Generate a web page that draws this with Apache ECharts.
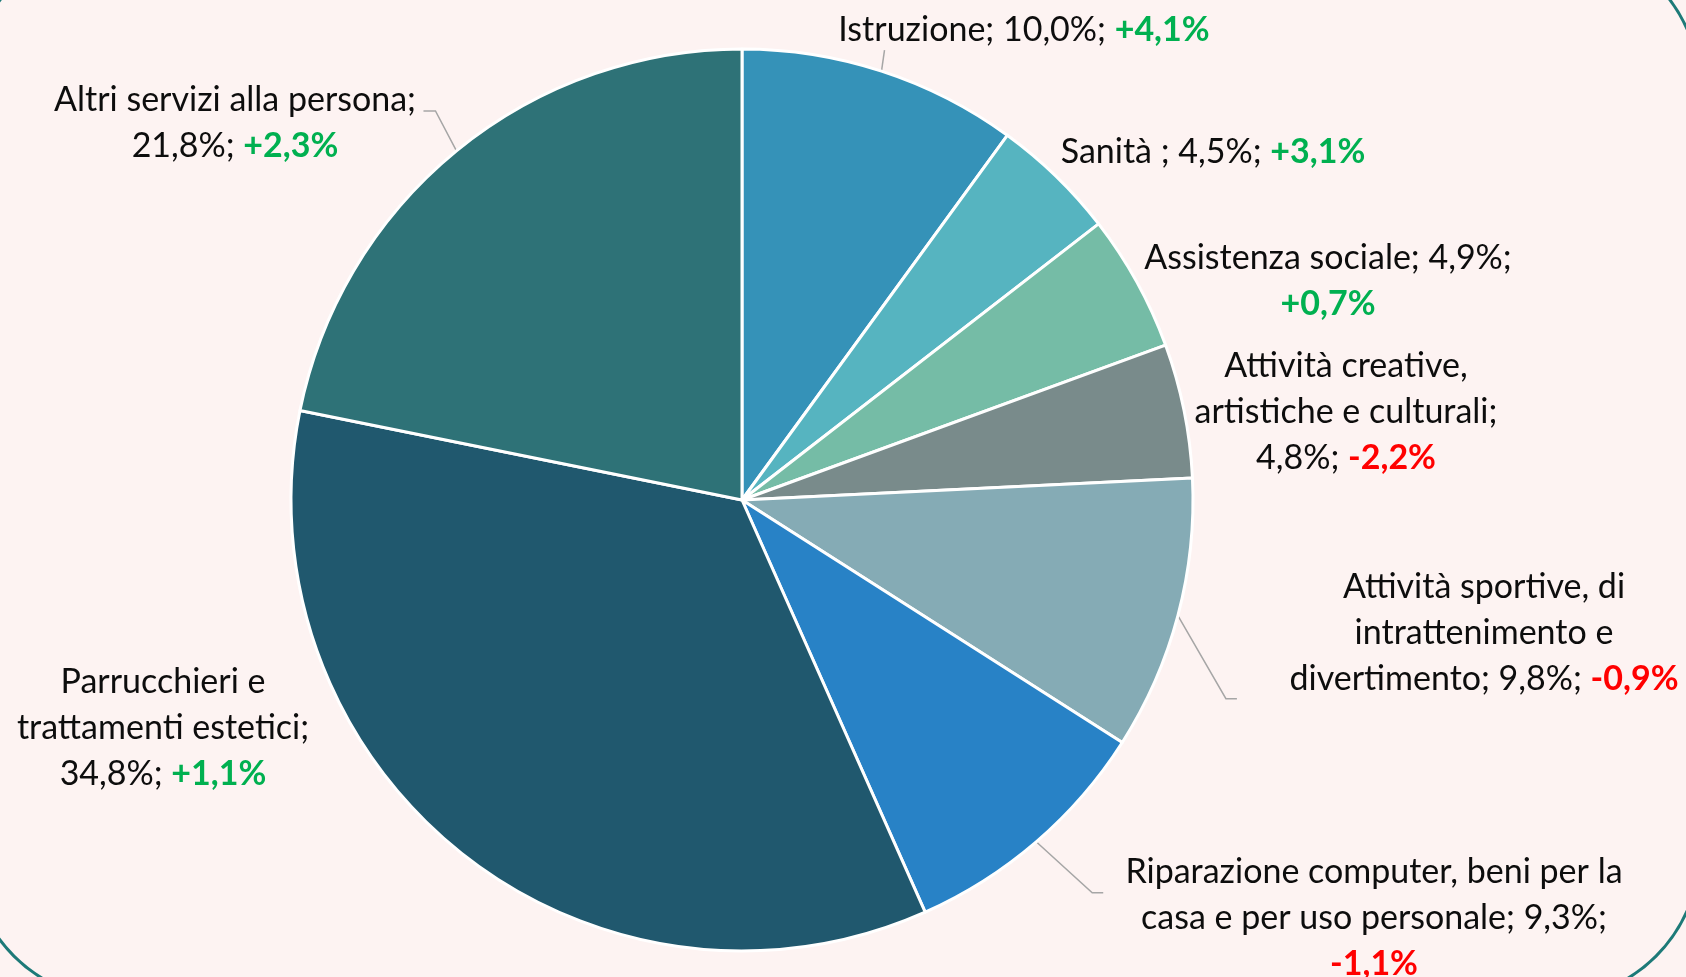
<!DOCTYPE html>
<html>
<head>
<meta charset="utf-8">
<script src="https://cdn.jsdelivr.net/npm/echarts@6/dist/echarts.min.js"></script>
<style>
html,body{margin:0;padding:0;background:#fdf3f2;}
#chart{width:1686px;height:977px;}
</style>
</head>
<body>
<div id="chart"></div>
<script>
// ---- data ----
const categories = [
  'Istruzione',
  'Sanità ',
  'Assistenza sociale',
  'Attività creative, artistiche e culturali',
  'Attività sportive, di intrattenimento e divertimento',
  'Riparazione computer, beni per la casa e per uso personale',
  'Parrucchieri e trattamenti estetici',
  'Altri servizi alla persona'
];
const shares = [10.0, 4.5, 4.9, 4.8, 9.8, 9.3, 34.8, 21.8];
const changes = [4.1, 3.1, 0.7, -2.2, -0.9, -1.1, 1.1, 2.3];

// ---- presentation ----
const colors = ['#3592b8', '#56b4c0', '#75bca6', '#798b8b', '#85abb5', '#2882c6', '#20586e', '#2e7277'];
// line wrapping of each label: words after which the name breaks, separator after name, separator after share
const wrap = [
  [[], '; ', '; '],
  [[], '; ', '; '],
  [[], '; ', ';\n'],
  [[2], ';\n', '; '],
  [[3, 5], '; ', '; '],
  [[5], '; ', ';\n'],
  [[2], ';\n', '; '],
  [[], ';\n', '; ']
];
const labelCenter = [
  [1024, 30], [1213, 152], [1328, 281], [1346, 412],
  [1484, 633], [1374, 918], [163, 728], [235, 123]
];
// leader line shape: offsets of elbow and end from the slice anchor (null = no line)
const leader = [
  [[3, -21], [3, -21]],
  null, null, null,
  [[48, 83], [59, 83]],
  [[56, 51], [67, 51]],
  null,
  [[-21, -40], [-33, -40]]
];

function fmt(v) { return v.toFixed(1).replace('.', ',') + '%'; }
function wrapName(name, breaks) {
  const w = name.split(' ');
  let s = '';
  w.forEach((word, i) => {
    s += word;
    if (i < w.length - 1) s += breaks.indexOf(i + 1) >= 0 ? '\n' : ' ';
  });
  return s;
}

const chart = echarts.init(document.getElementById('chart'));
const data = categories.map((c, i) => ({
  name: c,
  value: shares[i],
  itemStyle: { color: colors[i] },
  labelLine: { show: leader[i] != null }
}));

const txt = { fontFamily: 'Lato', fontSize: 34, lineHeight: 46, align: 'center' };

chart.setOption({
  backgroundColor: '#fdf3f2',
  animation: false,
  graphic: [{
    type: 'rect',
    z: -10,
    shape: { x: -30, y: -60, width: 1730, height: 1060, r: 150 },
    style: { fill: '#fdf3f2', stroke: '#1d7a78', lineWidth: 3 }
  }],
  series: [{
    type: 'pie',
    center: [742, 500],
    radius: 451,
    startAngle: 90,
    clockwise: true,
    avoidLabelOverlap: false,
    data: data,
    itemStyle: { borderColor: '#ffffff', borderWidth: 3 },
    label: {
      show: true,
      position: 'outside',
      fontFamily: 'Lato',
      fontSize: 34,
      lineHeight: 46,
      color: '#0d0d0d',
      align: 'center',
      formatter: function (p) {
        const i = p.dataIndex;
        const w = wrap[i];
        const base = wrapName(categories[i], w[0]) + w[1] + fmt(shares[i]) + w[2];
        const ch = changes[i];
        const tag = ch >= 0 ? 'g' : 'r';
        const chTxt = (ch >= 0 ? '+' : '') + fmt(ch);
        return '{t|' + base + '}{' + tag + '|' + chTxt + '}';
      },
      rich: {
        t: Object.assign({ color: '#0d0d0d' }, txt),
        g: Object.assign({ color: '#00b050', fontWeight: 'bold' }, txt),
        r: Object.assign({ color: '#ff0000', fontWeight: 'bold' }, txt)
      }
    },
    labelLine: {
      length: 12,
      length2: 12,
      lineStyle: { color: '#a6a6a6', width: 1.5 }
    },
    labelLayout: function (params) {
      const i = params.dataIndex;
      const c = labelCenter[i];
      const out = { x: c[0], y: c[1], align: 'center', verticalAlign: 'middle' };
      const L = leader[i];
      if (L && params.labelLinePoints) {
        const a = params.labelLinePoints[0];
        out.labelLinePoints = [
          [a[0], a[1]],
          [a[0] + L[0][0], a[1] + L[0][1]],
          [a[0] + L[1][0], a[1] + L[1][1]]
        ];
      }
      return out;
    }
  }]
});
</script>
</body>
</html>
